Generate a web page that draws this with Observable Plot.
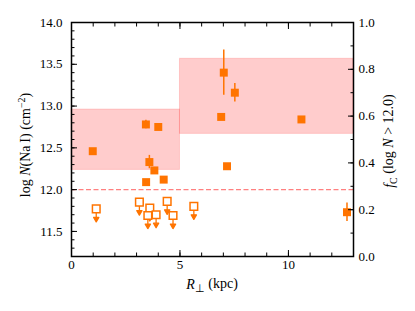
<!DOCTYPE html>
<html><head><meta charset="utf-8">
<script src="https://cdn.jsdelivr.net/npm/d3@7"></script>
<script src="https://cdn.jsdelivr.net/npm/@observablehq/plot@0.6"></script>
<style>body{margin:0;background:#fff}#chart{width:415px;height:311px}</style>
</head><body><div id="chart"></div>
<script>
// Detections (filled squares)
const detR = [0.98, 3.43, 3.44, 3.59, 3.82, 4.00, 4.25, 6.90, 7.02, 7.17, 7.53, 10.60, 12.70];
const detN = [12.46, 12.78, 12.09, 12.33, 12.23, 12.75, 12.12, 12.87, 13.40, 12.28, 13.16, 12.84, 11.73];
// Error bars
const errR = [3.43, 3.59, 7.02, 7.53, 12.70];
const errLo = [12.73, 12.25, 13.13, 13.05, 11.62];
const errHi = [12.83, 12.41, 13.67, 13.27, 11.84];
// Upper limits (open squares)
const limR = [1.14, 3.13, 3.61, 3.52, 3.90, 4.41, 4.68, 5.64];
const limN = [11.77, 11.85, 11.78, 11.69, 11.70, 11.86, 11.69, 11.80];
// Covering fraction bins (right axis)
const binLo = [0, 5];
const binHi = [5, 13];
const fcLo = [0.37, 0.524];
const fcHi = [0.628, 0.845];
const threshold = 12.0;
// Ticks
const xMajor = [0, 5, 10];
const xMinor = d3.range(0, 14);
const yMajor = [11.5, 12.0, 12.5, 13.0, 13.5, 14.0];
const yMinor = d3.range(113, 141).map(v => v / 10);
const fcMajor = [0, 0.2, 0.4, 0.6, 0.8, 1.0];
const fcMinor = d3.range(0, 11).map(v => v / 10);

const yMin = 11.2, yMax = 14.0;
const toY = f => yMin + f * (yMax - yMin);
const fromY = y => (y - yMin) / (yMax - yMin);
const orange = "#ff7400";
const FONT = "'Times New Roman', 'Liberation Serif', Times, serif";

const dets = detR.map((r, i) => ({r, n: detN[i]}));
const errs = errR.map((r, i) => ({r, lo: errLo[i], hi: errHi[i]}));
const lims = limR.map((r, i) => ({r, n: limN[i]}));
const bins = binLo.map((lo, i) => ({lo, hi: binHi[i], fl: fcLo[i], fh: fcHi[i]}));

const arrowShape = {
  draw(ctx, l) {
    const h = 4.5, w = 2.6;
    ctx.moveTo(0, 0);
    ctx.lineTo(0, -l + h);
    ctx.moveTo(-w, -l + h);
    ctx.lineTo(0, -l);
    ctx.lineTo(w, -l + h);
    ctx.closePath();
  }
};
const blank = () => "";

const plot = Plot.plot({
  width: 415, height: 311,
  marginLeft: 71, marginRight: 62, marginTop: 22, marginBottom: 55,
  style: {fontFamily: FONT, fontSize: "13px", background: "white", color: "black"},
  x: {domain: [0, 13]},
  y: {domain: [yMin, yMax]},
  marks: [
    Plot.rect(bins, {x1: "lo", x2: "hi", y1: d => toY(d.fl), y2: d => toY(d.fh), fill: "#ff0000", fillOpacity: 0.2, stroke: "#ff0000", strokeOpacity: 0.15}),
    Plot.ruleY([threshold], {stroke: "#ff8080", strokeDasharray: "5,2.5", strokeWidth: 1.3}),
    Plot.ruleX(errs, {x: "r", y1: "lo", y2: "hi", stroke: orange, strokeWidth: 1.5}),
    Plot.dot(dets, {x: "r", y: "n", symbol: "square", r: 4.5, fill: orange, stroke: null}),
    Plot.vector(lims, {x: "r", y: "n", length: 13, rotate: 180, anchor: "start", shape: arrowShape, stroke: orange, fill: orange, strokeWidth: 1.3}),
    Plot.dot(lims, {x: "r", y: "n", symbol: "square", r: 4.3, fill: "white", stroke: orange, strokeWidth: 1.5}),
    Plot.axisX({anchor: "bottom", ticks: xMajor, tickSize: -6, tickPadding: 9, tickFormat: d3.format("d"), label: null}),
    Plot.axisX({anchor: "bottom", ticks: xMinor, tickSize: -3.5, tickFormat: blank, label: null}),
    Plot.axisX({anchor: "top", ticks: xMajor, tickSize: -6, tickFormat: blank, label: null}),
    Plot.axisX({anchor: "top", ticks: xMinor, tickSize: -3.5, tickFormat: blank, label: null}),
    Plot.axisY({anchor: "left", ticks: yMajor, tickSize: -6, tickPadding: 15, tickFormat: d3.format(".1f"), label: null}),
    Plot.axisY({anchor: "left", ticks: yMinor, tickSize: -3.5, tickFormat: blank, label: null}),
    Plot.axisY({anchor: "right", ticks: fcMajor.map(toY), tickSize: -6, tickPadding: 11, tickFormat: y => d3.format(".1f")(fromY(y)), label: null}),
    Plot.axisY({anchor: "right", ticks: fcMinor.map(toY), tickSize: -3.5, tickFormat: blank, label: null}),
    Plot.frame({stroke: "black", strokeWidth: 1.5})
  ]
});
document.getElementById("chart").appendChild(plot);

const svg = d3.select(plot);
function label(x, y, rot) {
  return svg.append("text")
    .attr("transform", `translate(${x},${y}) rotate(${rot})`)
    .attr("text-anchor", "middle")
    .attr("font-family", FONT)
    .attr("font-size", 14)
    .attr("fill", "black");
}
// Left label
const L = label(30, 145, -90);
L.append("tspan").text("log ");
L.append("tspan").attr("font-style", "italic").text("N");
L.append("tspan").text("(Na\u2009I) (cm");
L.append("tspan").attr("font-size", 10).attr("dy", "-0.5em").text("\u22122");
L.append("tspan").attr("dy", "0.35em").text(")");
// Right label
const Rl = label(394, 141, -90);
Rl.append("tspan").attr("font-style", "italic").text("f");
Rl.append("tspan").attr("font-size", 10).attr("dy", "0.3em").text("C");
Rl.append("tspan").attr("dy", "-0.3em").text(" (log ");
Rl.append("tspan").attr("font-style", "italic").text("N");
Rl.append("tspan").text(" > 12.0)");
// Bottom label
const B = label(212, 289, 0);
B.append("tspan").attr("font-style", "italic").text("R");
B.append("tspan").attr("font-size", 11).attr("dy", "0.25em").text("\u22a5");
B.append("tspan").attr("dy", "-0.25em").text(" (kpc)");
</script>
</body></html>
